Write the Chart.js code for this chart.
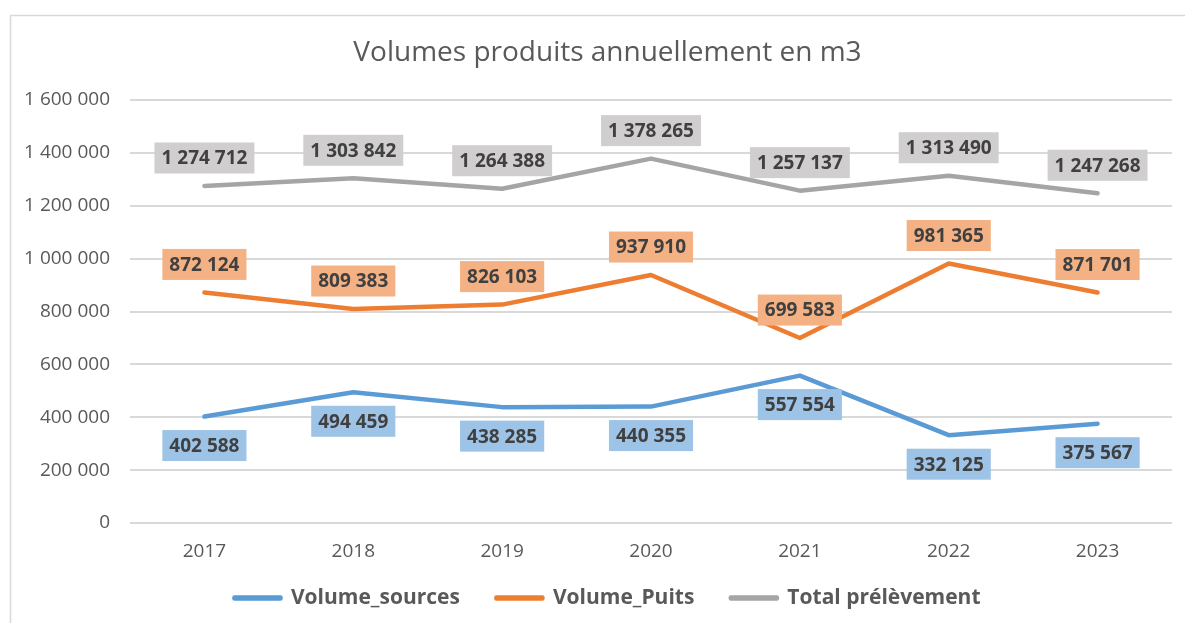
<!DOCTYPE html>
<html>
<head>
<meta charset="utf-8">
<script src="https://cdn.jsdelivr.net/npm/chart.js@4/dist/chart.umd.min.js"></script>
<style>
  html, body { margin: 0; padding: 0; background: #fff; overflow: hidden; }
  canvas { display: block; }
</style>
</head>
<body>
<canvas id="myChart" width="1205" height="623"></canvas>
<script>
// valeurs
const categories = ['2017', '2018', '2019', '2020', '2021', '2022', '2023'];
const volumeSources = [402588, 494459, 438285, 440355, 557554, 332125, 375567];
const volumePuits = [872124, 809383, 826103, 937910, 699583, 981365, 871701];
const totalPrelevement = [1274712, 1303842, 1264388, 1378265, 1257137, 1313490, 1247268];

const fmt = (v) => String(v).replace(/\B(?=(\d{3})+(?!\d))/g, ' ');

// cadre gris clair autour du graphique
const framePlugin = {
    id: 'frame',
    beforeDraw(chart) {
        const ctx = chart.ctx;
        ctx.save();
        ctx.fillStyle = '#fff';
        ctx.fillRect(0, 0, chart.width, chart.height);
        ctx.strokeStyle = '#d9d9d9';
        ctx.lineWidth = 1.5;
        ctx.beginPath();
        ctx.moveTo(10.5, chart.height);
        ctx.lineTo(10.5, 15.5);
        ctx.lineTo(chart.width, 15.5);
        ctx.stroke();
        ctx.restore();
    }
};

// étiquettes de données dans des cases colorées
const labelPlugin = {
    id: 'boxLabels',
    afterDatasetsDraw(chart) {
        const ctx = chart.ctx;
        ctx.save();
        ctx.font = 'bold 19px "Open Sans"';
        ctx.textAlign = 'center';
        ctx.textBaseline = 'middle';
        chart.data.datasets.forEach((ds, i) => {
            const meta = chart.getDatasetMeta(i);
            meta.data.forEach((pt, j) => {
                const txt = fmt(ds.data[j]);
                const w = ctx.measureText(txt).width + 14;
                const h = 31;
                const cy = ds.labelSide === 'below' ? pt.y + 29 : pt.y - 28;
                ctx.fillStyle = ds.labelFill;
                ctx.fillRect(pt.x - w / 2, cy - h / 2, w, h);
                ctx.fillStyle = '#404040';
                ctx.fillText(txt, pt.x, cy + 1);
            });
        });
        ctx.restore();
    }
};

const lineStyle = {
    borderWidth: 4.5,
    pointRadius: 0,
    tension: 0,
    borderCapStyle: 'round',
    borderJoinStyle: 'round',
    fill: false,
};

new Chart(document.getElementById('myChart'), {
    type: 'line',
    data: {
        labels: categories,
        datasets: [
            {
                ...lineStyle,
                label: 'Volume_sources',
                data: volumeSources,
                borderColor: '#5b9bd5',
                backgroundColor: '#5b9bd5',
                labelFill: '#9dc3e6',
                labelSide: 'below',
            },
            {
                ...lineStyle,
                label: 'Volume_Puits',
                data: volumePuits,
                borderColor: '#ed7d31',
                backgroundColor: '#ed7d31',
                labelFill: '#f4b183',
                labelSide: 'above',
            },
            {
                ...lineStyle,
                label: 'Total prélèvement',
                data: totalPrelevement,
                borderColor: '#a5a5a5',
                backgroundColor: '#a5a5a5',
                labelFill: '#d0cece',
                labelSide: 'above',
            },
        ],
    },
    options: {
        responsive: false,
        animation: false,
        layout: { padding: { left: 10, top: 15, right: 0, bottom: 4.5 } },
        plugins: {
            title: {
                display: true,
                text: 'Volumes produits annuellement en m3',
                color: '#595959',
                font: { family: '"Open Sans"', size: 28, weight: 'normal' },
                padding: { top: 21.5, bottom: 29.9 },
            },
            legend: {
                position: 'bottom',
                labels: {
                    boxWidth: 46,
                    boxHeight: 1,
                    padding: 22.5,
                    color: '#595959',
                    font: { family: '"Open Sans"', size: 21, weight: 'bold' },
                    generateLabels(chart) {
                        const items = Chart.defaults.plugins.legend.labels.generateLabels(chart);
                        // un peu plus d'espace entre les entrées
                        items.forEach((it, k) => {
                            if (k < items.length - 1) it.text += '\u2002\u2009';
                        });
                        return items;
                    },
                },
            },
            tooltip: { enabled: false },
        },
        scales: {
            x: {
                offset: true,
                grid: { display: false, drawTicks: false },
                border: { display: false },
                ticks: {
                    color: '#595959',
                    padding: 17,
                    font: { family: '"Open Sans"', size: 19 },
                },
                afterFit(scale) { scale.height = 42; },
            },
            y: {
                min: 0,
                max: 1600000,
                grid: { color: '#d9d9d9', lineWidth: 2, drawTicks: false },
                border: { display: false },
                ticks: {
                    stepSize: 200000,
                    color: '#595959',
                    padding: 20,
                    font: { family: '"Open Sans"', size: 19 },
                    callback: (v) => fmt(v),
                },
                afterFit(scale) { scale.width = 120; },
            },
            yRight: {
                position: 'right',
                grid: { display: false, drawTicks: false },
                border: { display: false },
                ticks: { display: false },
                afterFit(scale) { scale.width = 33; },
            },
        },
    },
    plugins: [framePlugin, labelPlugin],
});
</script>
</body>
</html>
